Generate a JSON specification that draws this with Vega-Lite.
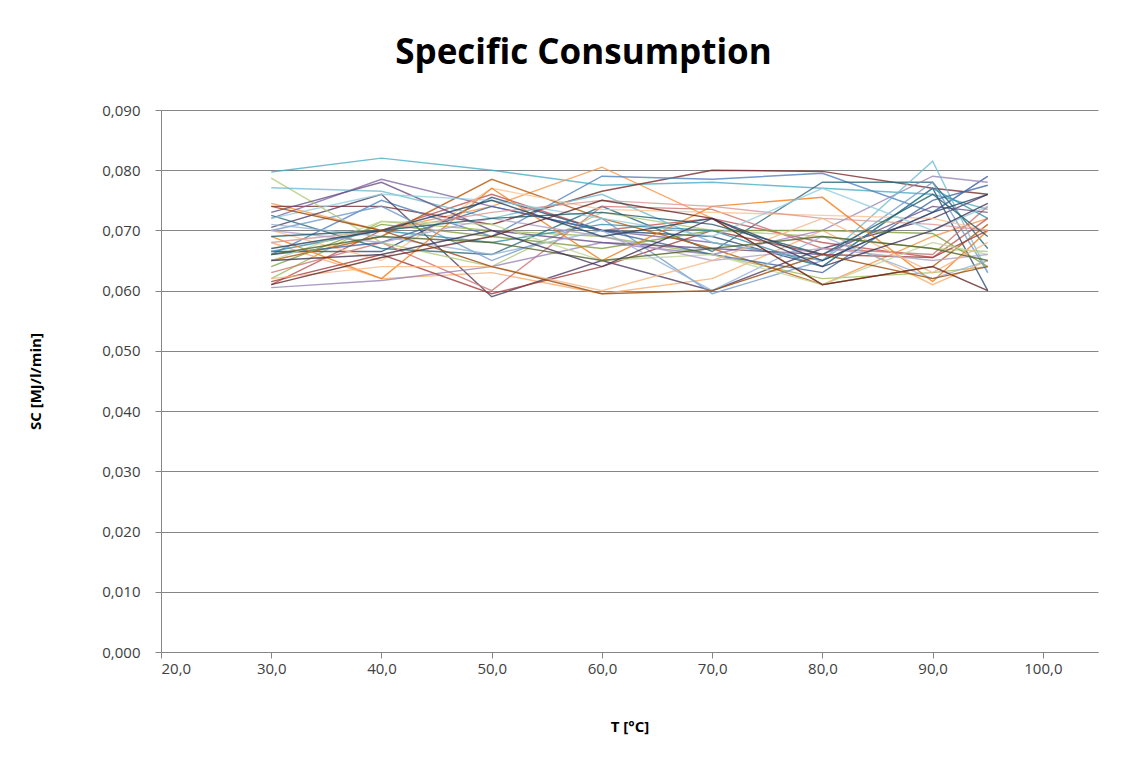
{
  "$schema": "https://vega.github.io/schema/vega-lite/v6.json",
  "width": 937,
  "height": 542,
  "autosize": {"type": "none"},
  "padding": {"left": 161, "top": 110, "right": 38, "bottom": 112},
  "background": "white",
  "title": {
    "text": "Specific Consumption",
    "font": "Open Sans",
    "fontSize": 35,
    "fontWeight": "bold",
    "color": "#000000",
    "anchor": "middle",
    "dx": -46,
    "offset": 32
  },
  "config": {
    "locale": {"number": {"decimal": ",", "thousands": ".", "grouping": [3], "currency": ["", " €"]}},
    "view": {"stroke": null},
    "axis": {
      "labelFont": "Open Sans",
      "labelFontSize": 15,
      "labelColor": "#404040",
      "titleFont": "Open Sans",
      "titleFontSize": 15,
      "titleFontWeight": "bold",
      "titleColor": "#000000",
      "domainColor": "#868686",
      "tickColor": "#868686",
      "gridColor": "#868686",
      "gridOpacity": 1,
      "gridWidth": 1,
      "tickSize": 6
    }
  },
  "data": {
    "values": [
      {"s":"S01","t":30,"v":0.0797},{"s":"S01","t":40,"v":0.0820},{"s":"S01","t":50,"v":0.0800},{"s":"S01","t":60,"v":0.0775},{"s":"S01","t":70,"v":0.0780},{"s":"S01","t":80,"v":0.0770},{"s":"S01","t":90,"v":0.0760},{"s":"S01","t":95,"v":0.0735},
      {"s":"S02","t":30,"v":0.0745},{"s":"S02","t":40,"v":0.0700},{"s":"S02","t":50,"v":0.0740},{"s":"S02","t":60,"v":0.0805},{"s":"S02","t":70,"v":0.0720},{"s":"S02","t":80,"v":0.0610},{"s":"S02","t":90,"v":0.0690},{"s":"S02","t":95,"v":0.0720},
      {"s":"S03","t":30,"v":0.0740},{"s":"S03","t":40,"v":0.0740},{"s":"S03","t":50,"v":0.0710},{"s":"S03","t":60,"v":0.0765},{"s":"S03","t":70,"v":0.0800},{"s":"S03","t":80,"v":0.0798},{"s":"S03","t":90,"v":0.0770},{"s":"S03","t":95,"v":0.0760},
      {"s":"S04","t":30,"v":0.0720},{"s":"S04","t":40,"v":0.0785},{"s":"S04","t":50,"v":0.0740},{"s":"S04","t":60,"v":0.0700},{"s":"S04","t":70,"v":0.0680},{"s":"S04","t":80,"v":0.0650},{"s":"S04","t":90,"v":0.0730},{"s":"S04","t":95,"v":0.0790},
      {"s":"S05","t":30,"v":0.0660},{"s":"S05","t":40,"v":0.0750},{"s":"S05","t":50,"v":0.0690},{"s":"S05","t":60,"v":0.0790},{"s":"S05","t":70,"v":0.0785},{"s":"S05","t":80,"v":0.0795},{"s":"S05","t":90,"v":0.0730},{"s":"S05","t":95,"v":0.0790},
      {"s":"S06","t":30,"v":0.0610},{"s":"S06","t":40,"v":0.0700},{"s":"S06","t":50,"v":0.0760},{"s":"S06","t":60,"v":0.0700},{"s":"S06","t":70,"v":0.0720},{"s":"S06","t":80,"v":0.0680},{"s":"S06","t":90,"v":0.0655},{"s":"S06","t":95,"v":0.0720},
      {"s":"S07","t":30,"v":0.0620},{"s":"S07","t":40,"v":0.0715},{"s":"S07","t":50,"v":0.0700},{"s":"S07","t":60,"v":0.0690},{"s":"S07","t":70,"v":0.0660},{"s":"S07","t":80,"v":0.0620},{"s":"S07","t":90,"v":0.0630},{"s":"S07","t":95,"v":0.0640},
      {"s":"S08","t":30,"v":0.0665},{"s":"S08","t":40,"v":0.0665},{"s":"S08","t":50,"v":0.0755},{"s":"S08","t":60,"v":0.0700},{"s":"S08","t":70,"v":0.0690},{"s":"S08","t":80,"v":0.0640},{"s":"S08","t":90,"v":0.0770},{"s":"S08","t":95,"v":0.0600},
      {"s":"S09","t":30,"v":0.0680},{"s":"S09","t":40,"v":0.0620},{"s":"S09","t":50,"v":0.0630},{"s":"S09","t":60,"v":0.0595},{"s":"S09","t":70,"v":0.0620},{"s":"S09","t":80,"v":0.0700},{"s":"S09","t":90,"v":0.0610},{"s":"S09","t":95,"v":0.0650},
      {"s":"S10","t":30,"v":0.0705},{"s":"S10","t":40,"v":0.0760},{"s":"S10","t":50,"v":0.0590},{"s":"S10","t":60,"v":0.0650},{"s":"S10","t":70,"v":0.0600},{"s":"S10","t":80,"v":0.0670},{"s":"S10","t":90,"v":0.0720},{"s":"S10","t":95,"v":0.0760},
      {"s":"S11","t":30,"v":0.0725},{"s":"S11","t":40,"v":0.0670},{"s":"S11","t":50,"v":0.0660},{"s":"S11","t":60,"v":0.0740},{"s":"S11","t":70,"v":0.0665},{"s":"S11","t":80,"v":0.0780},{"s":"S11","t":90,"v":0.0780},{"s":"S11","t":95,"v":0.0670},
      {"s":"S12","t":30,"v":0.0650},{"s":"S12","t":40,"v":0.0690},{"s":"S12","t":50,"v":0.0785},{"s":"S12","t":60,"v":0.0720},{"s":"S12","t":70,"v":0.0670},{"s":"S12","t":80,"v":0.0610},{"s":"S12","t":90,"v":0.0640},{"s":"S12","t":95,"v":0.0710},
      {"s":"S13","t":30,"v":0.0700},{"s":"S13","t":40,"v":0.0740},{"s":"S13","t":50,"v":0.0650},{"s":"S13","t":60,"v":0.0720},{"s":"S13","t":70,"v":0.0595},{"s":"S13","t":80,"v":0.0650},{"s":"S13","t":90,"v":0.0780},{"s":"S13","t":95,"v":0.0630},
      {"s":"S14","t":30,"v":0.0630},{"s":"S14","t":40,"v":0.0680},{"s":"S14","t":50,"v":0.0600},{"s":"S14","t":60,"v":0.0740},{"s":"S14","t":70,"v":0.0735},{"s":"S14","t":80,"v":0.0670},{"s":"S14","t":90,"v":0.0660},{"s":"S14","t":95,"v":0.0740},
      {"s":"S15","t":30,"v":0.0787},{"s":"S15","t":40,"v":0.0680},{"s":"S15","t":50,"v":0.0640},{"s":"S15","t":60,"v":0.0730},{"s":"S15","t":70,"v":0.0700},{"s":"S15","t":80,"v":0.0690},{"s":"S15","t":90,"v":0.0670},{"s":"S15","t":95,"v":0.0665},
      {"s":"S16","t":30,"v":0.0605},{"s":"S16","t":40,"v":0.0617},{"s":"S16","t":50,"v":0.0640},{"s":"S16","t":60,"v":0.0680},{"s":"S16","t":70,"v":0.0660},{"s":"S16","t":80,"v":0.0700},{"s":"S16","t":90,"v":0.0790},{"s":"S16","t":95,"v":0.0780},
      {"s":"S17","t":30,"v":0.0771},{"s":"S17","t":40,"v":0.0765},{"s":"S17","t":50,"v":0.0720},{"s":"S17","t":60,"v":0.0760},{"s":"S17","t":70,"v":0.0680},{"s":"S17","t":80,"v":0.0650},{"s":"S17","t":90,"v":0.0815},{"s":"S17","t":95,"v":0.0630},
      {"s":"S18","t":30,"v":0.0700},{"s":"S18","t":40,"v":0.0650},{"s":"S18","t":50,"v":0.0770},{"s":"S18","t":60,"v":0.0735},{"s":"S18","t":70,"v":0.0730},{"s":"S18","t":80,"v":0.0725},{"s":"S18","t":90,"v":0.0720},{"s":"S18","t":95,"v":0.0700},
      {"s":"S19","t":30,"v":0.0660},{"s":"S19","t":40,"v":0.0680},{"s":"S19","t":50,"v":0.0740},{"s":"S19","t":60,"v":0.0700},{"s":"S19","t":70,"v":0.0660},{"s":"S19","t":80,"v":0.0630},{"s":"S19","t":90,"v":0.0750},{"s":"S19","t":95,"v":0.0775},
      {"s":"S20","t":30,"v":0.0615},{"s":"S20","t":40,"v":0.0660},{"s":"S20","t":50,"v":0.0595},{"s":"S20","t":60,"v":0.0640},{"s":"S20","t":70,"v":0.0700},{"s":"S20","t":80,"v":0.0660},{"s":"S20","t":90,"v":0.0655},{"s":"S20","t":95,"v":0.0700},
      {"s":"S21","t":30,"v":0.0640},{"s":"S21","t":40,"v":0.0710},{"s":"S21","t":50,"v":0.0690},{"s":"S21","t":60,"v":0.0670},{"s":"S21","t":70,"v":0.0700},{"s":"S21","t":80,"v":0.0700},{"s":"S21","t":90,"v":0.0695},{"s":"S21","t":95,"v":0.0640},
      {"s":"S22","t":30,"v":0.0730},{"s":"S22","t":40,"v":0.0780},{"s":"S22","t":50,"v":0.0700},{"s":"S22","t":60,"v":0.0680},{"s":"S22","t":70,"v":0.0670},{"s":"S22","t":80,"v":0.0660},{"s":"S22","t":90,"v":0.0740},{"s":"S22","t":95,"v":0.0730},
      {"s":"S23","t":30,"v":0.0665},{"s":"S23","t":40,"v":0.0700},{"s":"S23","t":50,"v":0.0680},{"s":"S23","t":60,"v":0.0710},{"s":"S23","t":70,"v":0.0700},{"s":"S23","t":80,"v":0.0640},{"s":"S23","t":90,"v":0.0770},{"s":"S23","t":95,"v":0.0720},
      {"s":"S24","t":30,"v":0.0690},{"s":"S24","t":40,"v":0.0620},{"s":"S24","t":50,"v":0.0770},{"s":"S24","t":60,"v":0.0650},{"s":"S24","t":70,"v":0.0740},{"s":"S24","t":80,"v":0.0755},{"s":"S24","t":90,"v":0.0615},{"s":"S24","t":95,"v":0.0700},
      {"s":"S25","t":30,"v":0.0710},{"s":"S25","t":40,"v":0.0690},{"s":"S25","t":50,"v":0.0660},{"s":"S25","t":60,"v":0.0700},{"s":"S25","t":70,"v":0.0600},{"s":"S25","t":80,"v":0.0690},{"s":"S25","t":90,"v":0.0620},{"s":"S25","t":95,"v":0.0650},
      {"s":"S26","t":30,"v":0.0680},{"s":"S26","t":40,"v":0.0700},{"s":"S26","t":50,"v":0.0730},{"s":"S26","t":60,"v":0.0750},{"s":"S26","t":70,"v":0.0740},{"s":"S26","t":80,"v":0.0720},{"s":"S26","t":90,"v":0.0710},{"s":"S26","t":95,"v":0.0700},
      {"s":"S27","t":30,"v":0.0650},{"s":"S27","t":40,"v":0.0715},{"s":"S27","t":50,"v":0.0710},{"s":"S27","t":60,"v":0.0650},{"s":"S27","t":70,"v":0.0660},{"s":"S27","t":80,"v":0.0610},{"s":"S27","t":90,"v":0.0680},{"s":"S27","t":95,"v":0.0660},
      {"s":"S28","t":30,"v":0.0700},{"s":"S28","t":40,"v":0.0680},{"s":"S28","t":50,"v":0.0720},{"s":"S28","t":60,"v":0.0690},{"s":"S28","t":70,"v":0.0650},{"s":"S28","t":80,"v":0.0670},{"s":"S28","t":90,"v":0.0650},{"s":"S28","t":95,"v":0.0660},
      {"s":"S29","t":30,"v":0.0720},{"s":"S29","t":40,"v":0.0760},{"s":"S29","t":50,"v":0.0750},{"s":"S29","t":60,"v":0.0720},{"s":"S29","t":70,"v":0.0690},{"s":"S29","t":80,"v":0.0770},{"s":"S29","t":90,"v":0.0700},{"s":"S29","t":95,"v":0.0740},
      {"s":"S30","t":30,"v":0.0620},{"s":"S30","t":40,"v":0.0640},{"s":"S30","t":50,"v":0.0640},{"s":"S30","t":60,"v":0.0600},{"s":"S30","t":70,"v":0.0650},{"s":"S30","t":80,"v":0.0720},{"s":"S30","t":90,"v":0.0630},{"s":"S30","t":95,"v":0.0680},
      {"s":"S31","t":30,"v":0.0670},{"s":"S31","t":40,"v":0.0700},{"s":"S31","t":50,"v":0.0750},{"s":"S31","t":60,"v":0.0690},{"s":"S31","t":70,"v":0.0720},{"s":"S31","t":80,"v":0.0650},{"s":"S31","t":90,"v":0.0730},{"s":"S31","t":95,"v":0.0760},
      {"s":"S32","t":30,"v":0.0610},{"s":"S32","t":40,"v":0.0655},{"s":"S32","t":50,"v":0.0690},{"s":"S32","t":60,"v":0.0750},{"s":"S32","t":70,"v":0.0720},{"s":"S32","t":80,"v":0.0610},{"s":"S32","t":90,"v":0.0640},{"s":"S32","t":95,"v":0.0600},
      {"s":"S33","t":30,"v":0.0660},{"s":"S33","t":40,"v":0.0690},{"s":"S33","t":50,"v":0.0680},{"s":"S33","t":60,"v":0.0650},{"s":"S33","t":70,"v":0.0670},{"s":"S33","t":80,"v":0.0690},{"s":"S33","t":90,"v":0.0670},{"s":"S33","t":95,"v":0.0650},
      {"s":"S34","t":30,"v":0.0650},{"s":"S34","t":40,"v":0.0660},{"s":"S34","t":50,"v":0.0700},{"s":"S34","t":60,"v":0.0640},{"s":"S34","t":70,"v":0.0720},{"s":"S34","t":80,"v":0.0640},{"s":"S34","t":90,"v":0.0700},{"s":"S34","t":95,"v":0.0745},
      {"s":"S35","t":30,"v":0.0690},{"s":"S35","t":40,"v":0.0700},{"s":"S35","t":50,"v":0.0720},{"s":"S35","t":60,"v":0.0730},{"s":"S35","t":70,"v":0.0710},{"s":"S35","t":80,"v":0.0660},{"s":"S35","t":90,"v":0.0760},{"s":"S35","t":95,"v":0.0690},
      {"s":"S36","t":30,"v":0.0740},{"s":"S36","t":40,"v":0.0700},{"s":"S36","t":50,"v":0.0640},{"s":"S36","t":60,"v":0.0595},{"s":"S36","t":70,"v":0.0600},{"s":"S36","t":80,"v":0.0660},{"s":"S36","t":90,"v":0.0620},{"s":"S36","t":95,"v":0.0640}
    ]
  },
  "mark": {"type": "line", "strokeWidth": 1.4, "opacity": 0.8, "clip": true},
  "encoding": {
    "x": {
      "field": "t",
      "type": "quantitative",
      "scale": {"domain": [20, 105], "nice": false, "zero": false},
      "axis": {
        "title": "T [°C]",
        "values": [20, 30, 40, 50, 60, 70, 80, 90, 100],
        "format": ".1f",
        "grid": false,
        "labelPadding": 3,
        "titlePadding": 43
      }
    },
    "y": {
      "field": "v",
      "type": "quantitative",
      "scale": {"domain": [0, 0.09], "nice": false},
      "axis": {
        "title": "SC [MJ/l/min]",
        "values": [0, 0.01, 0.02, 0.03, 0.04, 0.05, 0.06, 0.07, 0.08, 0.09],
        "format": ".3f",
        "grid": true,
        "labelPadding": 15,
        "titleX": -118,
        "titleY": 271
      }
    },
    "color": {
      "field": "s",
      "type": "nominal",
      "legend": null,
      "scale": {
        "range": ["#4BACC6", "#F79646", "#772C2A", "#8064A2", "#4F81BD", "#C0504D", "#9BBB59", "#2C4D75", "#F9AB6B", "#4D3B62", "#276A7C", "#B65708", "#729ACA", "#CD7371", "#AFC97A", "#9983B5", "#6FBDD1", "#FAC090", "#3A679C", "#9F3B38", "#7E9D40", "#664F83", "#358EA6", "#F37B17", "#95B3D7", "#D99694", "#C3D69B", "#B2A1C7", "#93CDDD", "#F5B583", "#254061", "#632523", "#4F6228", "#403152", "#215968", "#984807"]
      }
    }
  }
}
